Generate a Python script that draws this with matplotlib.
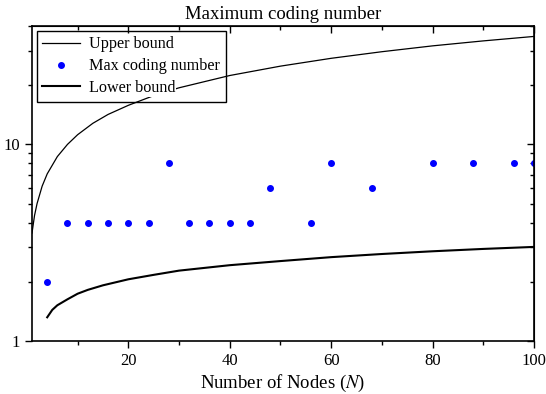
import matplotlib.pyplot as plt

plt.rcParams['font.family'] = ['Liberation Serif', 'DejaVu Serif']
plt.rcParams['mathtext.fontset'] = 'stix'

# upper bound curve
upper_x = [1, 1.5, 2, 3, 4, 6, 8, 10, 13, 16, 20, 25, 30, 40, 50, 60, 70, 80, 90, 100]
upper_y = [3.54, 4.35, 5.0, 6.13, 7.08, 8.67, 10.0, 11.2, 12.8, 14.2, 15.8, 17.7, 19.4,
           22.4, 25.0, 27.4, 29.6, 31.7, 33.6, 35.4]

# max coding number points
nodes = [4, 8, 12, 16, 20, 24, 28, 32, 36, 40, 44, 48, 56, 60, 68, 80, 88, 96, 100]
max_coding = [2, 4, 4, 4, 4, 4, 8, 4, 4, 4, 4, 6, 4, 8, 6, 8, 8, 8, 8]

# lower bound curve
lower_x = [4, 5, 6, 8, 10, 12, 15, 20, 25, 30, 40, 50, 60, 70, 80, 90, 100]
lower_y = [1.32, 1.44, 1.52, 1.63, 1.74, 1.82, 1.92, 2.06, 2.17, 2.28, 2.43, 2.55,
           2.67, 2.77, 2.86, 2.94, 3.01]

fig = plt.figure(figsize=(5.46, 3.94), dpi=100)
ax = fig.add_axes([0.0586, 0.1345, 0.9194, 0.7995])

ax.plot(upper_x, upper_y, color='black', lw=0.9, label='Upper bound')
ax.plot(nodes, max_coding, 'o', color='#0000ff', ms=4, label='Max coding number')
ax.plot(lower_x, lower_y, color='black', lw=1.5, label='Lower bound')

ax.set_yscale('log')
ax.set_xlim(1, 100)
ax.set_ylim(1, 40)
ax.set_xticks([20, 40, 60, 80, 100])
ax.set_xticks([10, 30, 50, 70, 90], minor=True)
ax.set_yticks([1, 10])
ax.set_yticklabels(['1', '10'])

ax.tick_params(which='both', direction='out', labelsize=12, width=1)
ax.tick_params(which='major', length=5)
ax.tick_params(which='minor', length=3)
for sp in ax.spines.values():
    sp.set_linewidth(1.2)

# mirrored ticks on top and right point inward
top = ax.secondary_xaxis('top')
top.set_xticks([20, 40, 60, 80, 100])
top.set_xticks([10, 30, 50, 70, 90], minor=True)
top.tick_params(which='both', direction='in', labeltop=False, width=1)
top.tick_params(which='major', length=5)
top.tick_params(which='minor', length=3)
right = ax.secondary_yaxis('right')
right.set_yticks([1, 10])
right.tick_params(which='both', direction='in', labelright=False, width=1)
right.tick_params(which='major', length=5)
right.tick_params(which='minor', length=3)

ax.set_title('Maximum coding number', fontsize=13.5, pad=5)
ax.set_xlabel('Number of Nodes ($\\it{N}$)', fontsize=13.5, labelpad=3)

# transparent legend box, curve shows through except behind the text
leg = ax.legend(loc='upper left', fontsize=11.6, frameon=True, fancybox=False,
                borderaxespad=0.3, handlelength=2.3,
                handletextpad=0.6, labelspacing=0.36, borderpad=0.35)
frame = leg.get_frame()
frame.set_alpha(None)
frame.set_facecolor('none')
frame.set_edgecolor('black')
frame.set_linewidth(1)
for t in leg.get_texts():
    t.set_bbox(dict(facecolor='white', edgecolor='none', pad=0.5))

fig.savefig('out.png', dpi=100)
